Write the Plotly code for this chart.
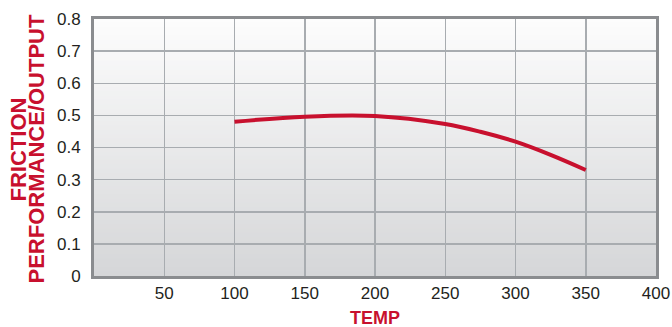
import plotly.graph_objects as go

temp = [100, 150, 200, 250, 275, 300, 325, 350]
friction = [0.48, 0.496, 0.498, 0.473, 0.449, 0.418, 0.377, 0.33]

x_ticks = [50, 100, 150, 200, 250, 300, 350, 400]
y_ticks = [0, 0.1, 0.2, 0.3, 0.4, 0.5, 0.6, 0.7, 0.8]
y_tick_text = ["0", "0.1", "0.2", "0.3", "0.4", "0.5", "0.6", "0.7", "0.8"]

RED = "#C8102E"
FONT = "Liberation Sans, Arial, sans-serif"

fig = go.Figure()
fig.add_trace(go.Scatter(x=temp, y=friction, mode="lines",
                         line=dict(color=RED, width=4, shape="spline", smoothing=1.0),
                         hoverinfo="skip", showlegend=False))

# vertical gradient background
n = 60
top = (253, 253, 253)
bot = (213, 214, 216)
shapes = []
for i in range(n):
    t = (i + 0.5) / n
    c = tuple(round(top[k] + (bot[k] - top[k]) * t) for k in range(3))
    shapes.append(dict(type="rect", xref="x domain", yref="y domain",
                       x0=0, x1=1, y0=1 - (i + 1) / n - 0.002, y1=1 - i / n + 0.002,
                       fillcolor="rgb(%d,%d,%d)" % c, line=dict(width=0), layer="below"))

fig.update_layout(
    width=672, height=327,
    margin=dict(l=94, r=16, t=19, b=51),
    paper_bgcolor="white", plot_bgcolor="rgba(0,0,0,0)",
    shapes=shapes,
    font=dict(family=FONT, color="#231F20", size=17),
    xaxis=dict(range=[0, 400], tickvals=x_ticks, ticktext=[str(v) for v in x_ticks],
               showgrid=True, gridcolor="#A8ACB0", gridwidth=1.5,
               showline=True, linecolor="#8A8C8F", linewidth=3, mirror=True,
               ticks="", ticklabelstandoff=0, zeroline=False, automargin=False,
               tickfont=dict(size=17, family=FONT, color="#231F20")),
    yaxis=dict(range=[0, 0.8], tickvals=y_ticks, ticktext=y_tick_text,
               showgrid=True, gridcolor="#A8ACB0", gridwidth=1.5,
               showline=True, linecolor="#8A8C8F", linewidth=3, mirror=True,
               ticks="", ticklabelstandoff=7, zeroline=False, automargin=False,
               tickfont=dict(size=17, family=FONT, color="#231F20")),
    annotations=[
        dict(text="<b>FRICTION</b>", xref="paper", yref="paper", x=0, y=0.5,
             xanchor="center", yanchor="middle", xshift=-76, yshift=-2, textangle=-90,
             showarrow=False, font=dict(size=22, color=RED, family=FONT)),
        dict(text="<b>PERFORMANCE/OUTPUT</b>", xref="paper", yref="paper", x=0, y=0.5,
             xanchor="center", yanchor="middle", xshift=-58, yshift=-2, textangle=-90,
             showarrow=False, font=dict(size=22, color=RED, family=FONT)),
        dict(text="<b>TEMP</b>", xref="paper", yref="paper", x=0.5, y=0,
             xanchor="center", yanchor="middle", yshift=-42, showarrow=False,
             font=dict(size=18, color=RED, family=FONT)),
    ],
)

fig.write_html("out.html", config={"displayModeBar": False, "staticPlot": True},
               post_script="document.documentElement.style.margin='0';document.body.style.margin='0';"
                           "document.body.style.overflow='hidden';")
